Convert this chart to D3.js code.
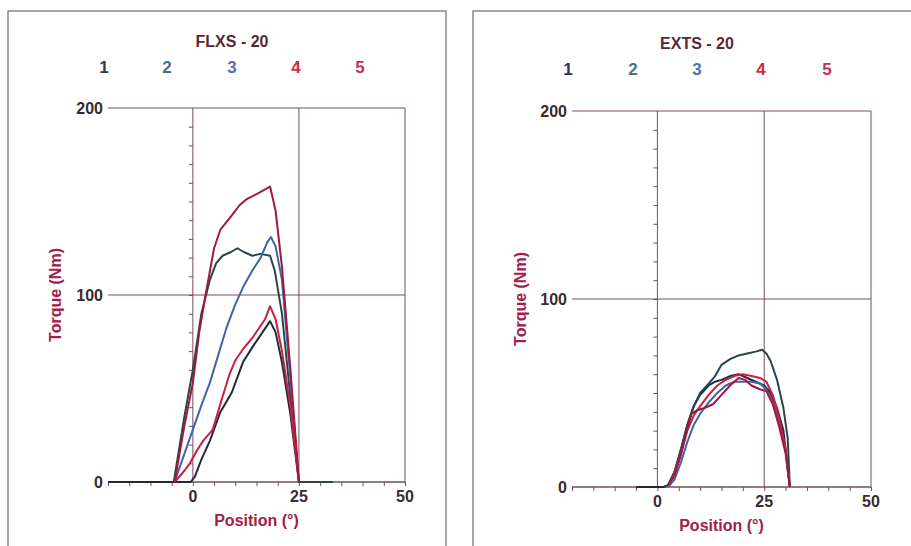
<!DOCTYPE html>
<html>
<head>
<meta charset="utf-8">
<script src="https://cdn.jsdelivr.net/npm/d3@7"></script>
<style>
  body { margin: 0; background: #fff; }
  svg { display: block; font-family: Arial, "Liberation Sans", sans-serif; }
</style>
</head>
<body>
<div id="chart"></div>
<script>
// series labels and colours (legend numbers)
const seriesNames = ["1", "2", "3", "4", "5"];
const legendColors = ["#2f3462", "#4a6d8c", "#4f70ba", "#d8283c", "#c2305e"];
const lineColors = ["#23283f", "#27454c", "#3f64ab", "#c6213f", "#a2183a"];

const xTicks = [0, 25, 50];
const yTicks = [0, 100, 200];

// FLXS - 20 : [position, torque]
const flx1 = [[-20, 0], [-0.5, 0], [0.5, 3], [2, 12], [4, 22], [6.4, 37], [9.2, 48], [11.8, 64], [14, 72], [15.8, 78], [18.2, 86], [19.5, 80], [21, 64], [23, 36], [25, 0], [33, 0]];
const flx2 = [[-4.5, 0], [-2, 35], [0, 60], [2, 90], [4, 108], [5.5, 117], [7, 121], [9, 123], [10.5, 125], [12, 123], [14, 121], [16, 122], [18.2, 121], [19.3, 113], [21, 90], [23, 45], [25, 0], [33, 0]];
const flx3 = [[-4.3, 0], [-2, 15], [0, 28], [2, 41], [4, 53], [6, 68], [8, 83], [10, 95], [12, 105], [14, 113], [16, 120], [17.5, 128], [18.4, 131], [19.5, 126], [21, 108], [23, 55], [25, 0]];
const flx4 = [[-4.3, 0], [-2, 6], [-0.7, 10], [1, 17], [2.4, 22], [4.7, 28], [6.5, 42], [8.7, 58], [10, 65], [11.8, 71], [14, 77], [15.8, 83], [17, 87], [18.2, 94], [19.5, 87], [21, 70], [23, 40], [25, 0]];
const flx5 = [[-4.3, 0], [-2, 30], [0, 53], [1.5, 80], [3, 100], [5, 125], [6.5, 135], [9, 142], [11, 148], [12.5, 151], [15, 154], [18.2, 158], [19.5, 145], [21, 115], [23, 60], [25, 0]];

// EXTS - 20 : [position, torque]
const ext1 = [[-5, 0], [1.5, 0], [2.5, 1], [4, 8], [5.5, 20], [7, 33], [8.5, 43], [10, 49], [12, 54], [13.5, 56], [15, 57], [17, 59], [19, 60], [21, 58], [23, 56], [25, 54], [26.5, 50], [28, 42], [29.5, 30], [31, 0]];
const ext2 = [[1.5, 0], [2.5, 1], [4, 8], [5.5, 20], [7, 33], [8.5, 43], [10, 50], [12, 55], [13.5, 59], [15, 65], [17, 68], [19, 70], [21, 71], [23, 72], [24.5, 73], [25.5, 71], [26.5, 67], [28, 57], [29.5, 42], [30.5, 26], [31, 0]];
const ext3 = [[2.5, 0], [4, 4], [5.5, 13], [7, 24], [8.5, 33], [10, 39], [12, 45], [14, 50], [16, 54], [18, 56], [20, 56], [22, 56], [24, 55], [25.5, 52], [27, 45], [28.5, 35], [30, 20], [31, 0]];
const ext4 = [[2.5, 1], [4, 7], [5.5, 18], [7, 30], [8.5, 38], [10, 43], [12, 49], [14, 54], [16, 57], [18, 59], [20, 60], [22, 59], [24, 58], [25.5, 56], [27, 49], [28.5, 37], [30, 20], [31, 0]];
const ext5 = [[2.5, 1], [4, 6], [5.5, 17], [7, 31], [8, 39], [9.5, 41], [11, 42], [13, 44], [15, 49], [17, 54], [19, 58], [20.5, 57], [22, 54], [24, 52], [25.5, 51], [27, 44], [28.5, 32], [30, 18], [31, 0]];

const W = 911, H = 546;
const gridColor = "#7a4c5a";

const svg = d3.select("#chart").append("svg")
  .attr("width", W)
  .attr("height", H);

function drawPanel(opt) {
  const g = svg.append("g");

  // panel frame (runs off the bottom of the page)
  g.append("rect")
    .attr("x", opt.frame[0]).attr("y", opt.frame[1])
    .attr("width", opt.frame[2]).attr("height", opt.frame[3])
    .attr("fill", "none").attr("stroke", "#6c6c6c").attr("stroke-width", 1.2);

  let x = d3.scaleLinear().domain([-20, 50]).range(opt.xRange);
  let y = d3.scaleLinear().domain([0, 200]).range(opt.yRange);

  // horizontal lines at 0, 100, 200
  g.selectAll(".hline").data(yTicks).enter().append("line")
    .attr("x1", x(-20)).attr("x2", x(50))
    .attr("y1", d => y(d)).attr("y2", d => y(d))
    .attr("stroke", gridColor).attr("stroke-width", d => d === 0 ? 1.6 : 1);

  // vertical lines at 0, 25, 50
  g.selectAll(".vline").data(xTicks).enter().append("line")
    .attr("x1", d => x(d)).attr("x2", d => x(d))
    .attr("y1", y(0)).attr("y2", y(200))
    .attr("stroke", gridColor).attr("stroke-width", 1);

  // minor ticks on the x axis (every 5) and on the zero line (every 10)
  const xAxis = d3.axisBottom(x).tickValues(d3.range(-20, 51, 5)).tickSize(4).tickFormat("");
  g.append("g")
    .attr("transform", `translate(0,${y(0)})`)
    .call(xAxis)
    .call(a => a.select(".domain").remove())
    .call(a => a.selectAll(".tick line").attr("stroke", gridColor));

  const yAxis = d3.axisLeft(y).tickValues(d3.range(10, 200, 10)).tickSize(4).tickFormat("");
  g.append("g")
    .attr("transform", `translate(${x(0)},0)`)
    .call(yAxis)
    .call(a => a.select(".domain").remove())
    .call(a => a.selectAll(".tick line").attr("stroke", gridColor));

  // tick labels
  g.selectAll(".ylab").data(yTicks).enter().append("text")
    .attr("x", x(-20) - 5).attr("y", d => y(d))
    .attr("dy", "0.35em")
    .attr("text-anchor", "end")
    .attr("font-size", 16).attr("font-weight", "bold")
    .attr("fill", "#3b2a30")
    .text(d => d);

  g.selectAll(".xlab").data(xTicks).enter().append("text")
    .attr("x", d => x(d)).attr("y", y(0) + 20)
    .attr("text-anchor", "middle")
    .attr("font-size", 16).attr("font-weight", "bold")
    .attr("fill", "#3b2a30")
    .text(d => d);

  // axis titles
  g.append("text")
    .attr("x", (x(-20) + x(50)) / 2 + opt.xTitleShift).attr("y", y(0) + 44)
    .attr("text-anchor", "middle")
    .attr("font-size", 16).attr("font-weight", "bold")
    .attr("fill", "#a0204a")
    .text("Position (°)");

  g.append("text")
    .attr("transform", `translate(${opt.yTitleX},${y(100)}) rotate(-90)`)
    .attr("text-anchor", "middle")
    .attr("dy", "0.35em")
    .attr("font-size", 16).attr("font-weight", "bold")
    .attr("fill", "#a0204a")
    .text("Torque (Nm)");

  // title + legend
  g.append("text")
    .attr("x", opt.legendX[2]).attr("y", opt.titleY)
    .attr("text-anchor", "middle")
    .attr("font-size", 16).attr("font-weight", "bold")
    .attr("fill", "#5a2834")
    .text(opt.title);

  g.selectAll(".leg").data(seriesNames).enter().append("text")
    .attr("x", (d, i) => opt.legendX[i]).attr("y", opt.titleY + 26)
    .attr("text-anchor", "middle")
    .attr("font-size", 17).attr("font-weight", "bold")
    .attr("fill", (d, i) => legendColors[i])
    .text(d => d);

  // curves
  const line = d3.line()
    .x(d => x(d[0]))
    .y(d => y(d[1]));

  g.selectAll(".curve").data(opt.series).enter().append("path")
    .attr("d", d => line(d))
    .attr("fill", "none")
    .attr("stroke", (d, i) => lineColors[i])
    .attr("stroke-width", 2)
    .attr("stroke-linejoin", "round");
}

drawPanel({
  title: "FLXS - 20",
  frame: [8, 11, 438, 560],
  xRange: [108, 405],
  yRange: [482, 108],
  titleY: 47,
  legendX: [104, 167, 232, 296, 360],
  yTitleX: 55,
  xTitleShift: 0,
  series: [flx1, flx2, flx3, flx4, flx5]
});

drawPanel({
  title: "EXTS - 20",
  frame: [473, 11, 460, 560],
  xRange: [572, 871],
  yRange: [487, 111],
  titleY: 49,
  legendX: [568, 633, 697, 761, 827],
  yTitleX: 520,
  xTitleShift: 0,
  series: [ext1, ext2, ext3, ext4, ext5]
});
</script>
</body>
</html>
